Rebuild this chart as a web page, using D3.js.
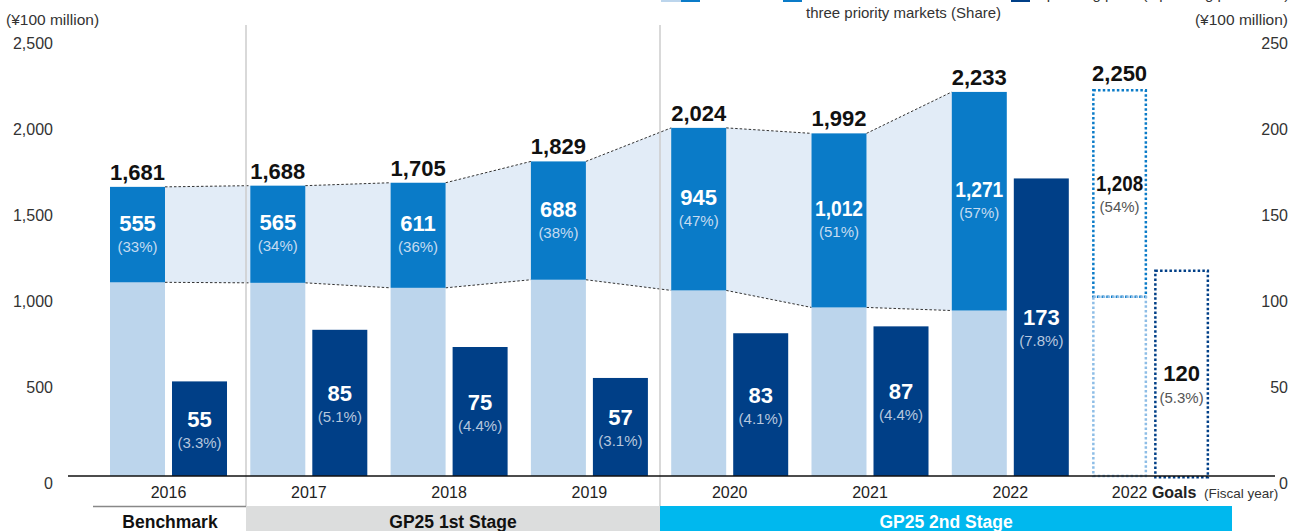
<!DOCTYPE html>
<html>
<head>
<meta charset="utf-8">
<script src="https://cdn.jsdelivr.net/npm/d3@7"></script>
<style>
  html, body { margin: 0; padding: 0; background: #fff; }
  svg { display: block; font-family: "Liberation Sans", Arial, sans-serif; }
</style>
</head>
<body>
<svg id="chart" width="1296" height="531"></svg>
<script>
// Fiscal years with actual results
const years = ["2016", "2017", "2018", "2019", "2020", "2021", "2022"];
// Revenue (¥100 million)
const totalRevenue = [1681, 1688, 1705, 1829, 2024, 1992, 2233];
// Revenue in the three priority markets (¥100 million) and its share
const priorityRevenue = [555, 565, 611, 688, 945, 1012, 1271];
const priorityShare = ["33%", "34%", "36%", "38%", "47%", "51%", "57%"];
// Operating profit (¥100 million) and operating profit ratio
const operatingProfit = [55, 85, 75, 57, 83, 87, 173];
const profitRatio = ["3.3%", "5.1%", "4.4%", "3.1%", "4.1%", "4.4%", "7.8%"];
// FY2022 goals
const goalKey = "Goals";
const goalRevenue = [2250];
const goalPriority = [1208];
const goalShare = ["54%"];
const goalProfit = [120];
const goalRatio = ["5.3%"];
// Axis ticks
const leftTicks = [0, 500, 1000, 1500, 2000, 2500];
const rightTicks = [0, 50, 100, 150, 200, 250];

const C = {
  light: "#bcd5ec",
  mid: "#0a7bc8",
  dark: "#003f87",
  band: "#e2ecf7",
  goalLight: "#8dbde6",
  stage1: "#dcdddd",
  stage2: "#00b8ee",
  sep: "#cccccc"
};

const svg = d3.select("#chart");
const FONT = '"Liberation Sans", Arial, sans-serif';

// scales
const x = d3.scaleBand().domain([...years, goalKey]).range([110, 1209.1]).paddingInner(0.166).paddingOuter(0);
const sub = d3.scaleBand().domain(["revenue", "profit"]).range([0, x.bandwidth()]).paddingInner(0.113).paddingOuter(0);
const y = d3.scaleLinear().domain([0, 2500]).range([476, 46]);
const y2 = d3.scaleLinear().domain([0, 250]).range([476, 46]);

const bw = sub.bandwidth();
const xr = d => x(d) + sub("revenue");
const xp = d => x(d) + sub("profit");

const rows = years.map((yr, i) => ({
  year: yr,
  total: totalRevenue[i],
  pri: priorityRevenue[i],
  share: priorityShare[i],
  profit: operatingProfit[i],
  ratio: profitRatio[i]
}));

// ---- top legend (runs past the upper edge)
const legend = svg.append("g").attr("font-family", FONT);
legend.append("rect").attr("x", 661).attr("y", -14).attr("width", 20).attr("height", 16).attr("fill", C.light);
legend.append("rect").attr("x", 681).attr("y", -14).attr("width", 19).attr("height", 16).attr("fill", C.mid);
legend.append("rect").attr("x", 783).attr("y", -14).attr("width", 19).attr("height", 16).attr("fill", C.mid);
legend.append("text").attr("x", 806).attr("y", 18).attr("font-size", 15).attr("fill", "#333").text("three priority markets (Share)");
legend.append("rect").attr("x", 1011).attr("y", -14).attr("width", 19).attr("height", 16).attr("fill", C.dark);
legend.append("text").attr("x", 1035).attr("y", -1).attr("font-size", 15).attr("fill", "#333").text("Operating profit (Operating profit ratio)");

// ---- unit labels
svg.append("text").attr("x", 6).attr("y", 25).attr("font-size", 15.5).attr("fill", "#333").text("(¥100 million)");
svg.append("text").attr("x", 1288).attr("y", 25).attr("text-anchor", "end").attr("font-size", 15.5).attr("fill", "#333").text("(¥100 million)");

// ---- axes
const fmt = d3.format(",");
const axL = svg.append("g").attr("transform", "translate(53,0)")
  .call(d3.axisLeft(y).tickValues(leftTicks).tickFormat(fmt).tickSize(0).tickPadding(0));
const axR = svg.append("g").attr("transform", "translate(1288,0)")
  .call(d3.axisLeft(y2).tickValues(rightTicks).tickFormat(fmt).tickSize(0).tickPadding(0));
[axL, axR].forEach(ax => {
  ax.select(".domain").remove();
  ax.selectAll("text")
    .attr("font-family", FONT).attr("font-size", 16).attr("fill", "#333")
    .attr("y", d => d === 0 ? 7 : -3);
});

// ---- bands linking the priority-market segments
const links = d3.pairs(rows);
const bands = svg.append("g");
bands.selectAll("path.band").data(links).join("path")
  .attr("fill", C.band)
  .attr("d", ([a, b]) => {
    const x0 = xr(a.year) + bw, x1 = xr(b.year);
    return `M${x0},${y(a.total)}L${x1},${y(b.total)}L${x1},${y(b.total - b.pri)}L${x0},${y(a.total - a.pri)}Z`;
  });
["top", "bottom"].forEach(edge => {
  bands.selectAll("line." + edge).data(links).join("line")
    .attr("x1", ([a]) => xr(a.year) + bw)
    .attr("x2", ([, b]) => xr(b.year))
    .attr("y1", ([a]) => edge === "top" ? y(a.total) : y(a.total - a.pri))
    .attr("y2", ([, b]) => edge === "top" ? y(b.total) : y(b.total - b.pri))
    .attr("stroke", "#333").attr("stroke-width", 1).attr("stroke-dasharray", "2.5,2");
});

// ---- stage separators
[246, 660].forEach(sx => {
  svg.append("line").attr("x1", sx).attr("x2", sx).attr("y1", 25).attr("y2", 506)
    .attr("stroke", C.sep).attr("stroke-width", 1.5);
});

// ---- revenue bars
const bars = svg.append("g");
bars.selectAll("rect.other").data(rows).join("rect")
  .attr("x", d => xr(d.year)).attr("width", bw)
  .attr("y", d => y(d.total - d.pri)).attr("height", d => y(0) - y(d.total - d.pri))
  .attr("fill", C.light);
bars.selectAll("rect.pri").data(rows).join("rect")
  .attr("x", d => xr(d.year)).attr("width", bw)
  .attr("y", d => y(d.total)).attr("height", d => y(d.total - d.pri) - y(d.total))
  .attr("fill", C.mid);
// operating profit bars
bars.selectAll("rect.profit").data(rows).join("rect")
  .attr("x", d => xp(d.year)).attr("width", bw)
  .attr("y", d => y2(d.profit)).attr("height", d => y2(0) - y2(d.profit))
  .attr("fill", C.dark);

// ---- goal bars (dotted outlines)
const gx = xr(goalKey), gpx = xp(goalKey);
const gTot = goalRevenue[0], gPri = goalPriority[0], gProf = goalProfit[0];
const dot = "2.5,2.2";
svg.append("rect").attr("x", gx + 1.25).attr("width", bw - 2.5)
  .attr("y", y(gTot) + 1.25).attr("height", y(gTot - gPri) - y(gTot) - 1.25)
  .attr("fill", "none").attr("stroke", C.mid).attr("stroke-width", 2.5).attr("stroke-dasharray", dot);
svg.append("rect").attr("x", gx + 1.25).attr("width", bw - 2.5)
  .attr("y", y(gTot - gPri)).attr("height", y(0) - y(gTot - gPri))
  .attr("fill", "none").attr("stroke", C.goalLight).attr("stroke-width", 2.5).attr("stroke-dasharray", dot);
svg.append("rect").attr("x", gpx + 1.25).attr("width", bw - 2.5)
  .attr("y", y2(gProf) + 1.25).attr("height", y2(0) - y2(gProf))
  .attr("fill", "none").attr("stroke", C.dark).attr("stroke-width", 2.5).attr("stroke-dasharray", dot);

// ---- baseline
svg.append("line").attr("x1", 68).attr("x2", 1275).attr("y1", 476).attr("y2", 476)
  .attr("stroke", "#111").attr("stroke-width", 1.5);

// ---- value labels
const lab = svg.append("g").attr("font-family", FONT).attr("text-anchor", "middle");
function fit(sel, max) {
  sel.each(function () {
    const w = this.getComputedTextLength();
    if (w > max) d3.select(this).attr("textLength", max).attr("lengthAdjust", "spacingAndGlyphs");
  });
}
const priMid = d => (y(d.total) + y(d.total - d.pri)) / 2;
const profMid = d => (y2(d.profit) + y2(0)) / 2;
// totals
lab.selectAll("text.total").data(rows).join("text")
  .attr("x", d => xr(d.year) + bw / 2).attr("y", d => y(d.total) - 7)
  .attr("font-size", 22).attr("font-weight", "bold").attr("fill", "#111")
  .text(d => fmt(d.total));
// priority market values
lab.selectAll("text.pri").data(rows).join("text")
  .attr("x", d => xr(d.year) + bw / 2).attr("y", d => priMid(d) - 4)
  .attr("font-size", 22).attr("font-weight", "bold").attr("fill", "#fff")
  .text(d => fmt(d.pri)).call(fit, 48);
lab.selectAll("text.share").data(rows).join("text")
  .attr("x", d => xr(d.year) + bw / 2).attr("y", d => priMid(d) + 17)
  .attr("font-size", 15).attr("fill", "#c6dcf1")
  .text(d => `(${d.share})`);
// operating profit values
lab.selectAll("text.profit").data(rows).join("text")
  .attr("x", d => xp(d.year) + bw / 2).attr("y", d => profMid(d) - 2)
  .attr("font-size", 22).attr("font-weight", "bold").attr("fill", "#fff")
  .text(d => fmt(d.profit));
lab.selectAll("text.ratio").data(rows).join("text")
  .attr("x", d => xp(d.year) + bw / 2).attr("y", d => profMid(d) + 19)
  .attr("font-size", 15).attr("fill", "#b7c7de")
  .text(d => `(${d.ratio})`);
// goal labels
const gMid = (y(gTot) + y(gTot - gPri)) / 2;
const gpMid = (y2(gProf) + y2(0)) / 2;
lab.append("text").attr("x", gx + bw / 2).attr("y", y(gTot) - 8)
  .attr("font-size", 22).attr("font-weight", "bold").attr("fill", "#111").text(fmt(gTot));
lab.append("text").attr("x", gx + bw / 2).attr("y", gMid - 2)
  .attr("font-size", 22).attr("font-weight", "bold").attr("fill", "#111").text(fmt(gPri)).call(fit, 47);
lab.append("text").attr("x", gx + bw / 2).attr("y", gMid + 19)
  .attr("font-size", 15).attr("fill", "#555").text(`(${goalShare[0]})`);
lab.append("text").attr("x", gpx + bw / 2).attr("y", gpMid + 8)
  .attr("font-size", 22).attr("font-weight", "bold").attr("fill", "#111").text(fmt(gProf));
lab.append("text").attr("x", gpx + bw / 2).attr("y", gpMid + 30)
  .attr("font-size", 15).attr("fill", "#555").text(`(${goalRatio[0]})`);

// ---- category labels
const xl = svg.append("g").attr("font-family", FONT).attr("font-size", 16).attr("fill", "#222").attr("text-anchor", "middle");
xl.selectAll("text.year").data(years).join("text")
  .attr("x", d => x(d) + x.bandwidth() / 2).attr("y", 498).text(d => d);
const gl = xl.append("text").attr("x", x(goalKey) + 62).attr("y", 498);
gl.append("tspan").text("2022 ");
gl.append("tspan").attr("font-weight", "bold").text("Goals");
xl.append("text").attr("x", 1204).attr("y", 498).attr("text-anchor", "start").attr("font-size", 13.5).attr("fill", "#333").text("(Fiscal year)");

// ---- plan stages
const st = svg.append("g").attr("font-family", FONT).attr("font-weight", "bold").attr("font-size", 17.5).attr("text-anchor", "middle");
st.append("line").attr("x1", 93).attr("x2", 246).attr("y1", 506.5).attr("y2", 506.5).attr("stroke", "#888").attr("stroke-width", 1.5);
st.append("text").attr("x", 170).attr("y", 528).attr("fill", "#111").text("Benchmark");
st.append("rect").attr("x", 246).attr("y", 506).attr("width", 414).attr("height", 30).attr("fill", C.stage1);
st.append("text").attr("x", 453).attr("y", 528).attr("fill", "#111").text("GP25 1st Stage");
st.append("rect").attr("x", 660).attr("y", 506).attr("width", 572).attr("height", 30).attr("fill", C.stage2);
st.append("text").attr("x", 946).attr("y", 528).attr("fill", "#fff").text("GP25 2nd Stage");
</script>
</body>
</html>
